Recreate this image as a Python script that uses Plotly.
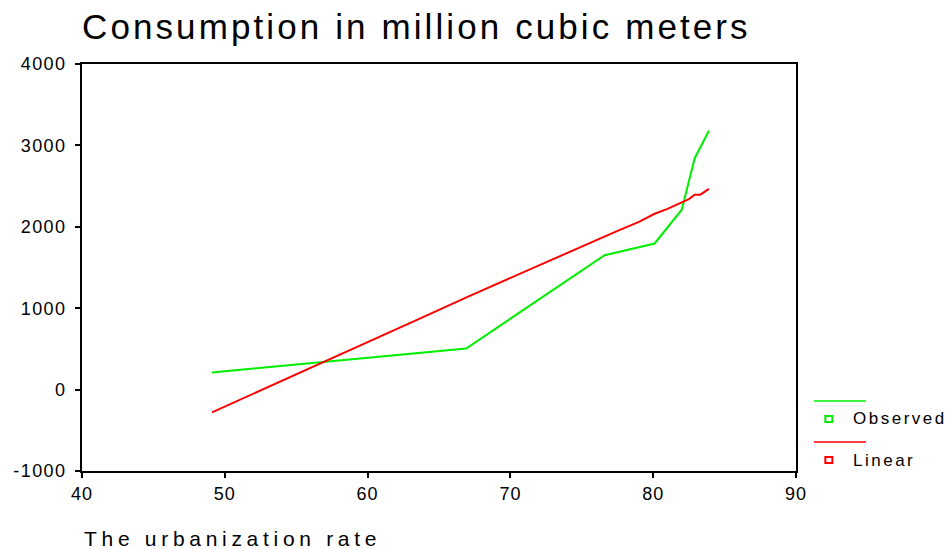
import plotly.graph_objects as go

# Observed consumption (million m3) against urbanization rate (%)
obs_rate = [49.1, 66.9, 76.6, 80.1, 82.0, 82.9, 83.9]
obs_consumption = [210, 505, 1650, 1795, 2210, 2840, 3180]

# Linear model fitted values
lin_rate = [49.1, 57.3, 64.0, 67.0, 71.5, 73.0, 76.6, 77.5, 79.0, 80.1,
            81.0, 82.0, 82.5, 82.9, 83.3, 83.9]
lin_consumption = [-280, 365, 900, 1140, 1490, 1600, 1880, 1950, 2060, 2160,
                   2220, 2300, 2340, 2395, 2395, 2465]

x_ticks = [40, 50, 60, 70, 80, 90]
y_ticks = [-1000, 0, 1000, 2000, 3000, 4000]
y_tick_labels = ["-1000", "0", "1000", "2000", "3000", "4000"]

GREEN = "#00ee00"
RED = "#ff0000"
FONT = "Liberation Sans, Arial, sans-serif"


def spaced(text, px):
    return f'<span style="letter-spacing:{px}px">{text}</span>'


fig = go.Figure()
fig.add_trace(go.Scatter(x=obs_rate, y=obs_consumption, mode="lines",
                         line=dict(color=GREEN, width=2), name="Observed",
                         showlegend=False))
fig.add_trace(go.Scatter(x=lin_rate, y=lin_consumption, mode="lines",
                         line=dict(color=RED, width=2), name="Linear",
                         showlegend=False))

axis_common = dict(showline=True, linecolor="black", linewidth=2, mirror=True,
                   ticks="outside", ticklen=5, tickcolor="black", tickwidth=1.5,
                   showgrid=False, zeroline=False,
                   tickfont=dict(family=FONT, size=18, color="black"))

fig.update_xaxes(range=[40, 90], tickvals=x_ticks,
                 ticktext=[spaced(str(v), 1) for v in x_ticks], **axis_common)
fig.update_yaxes(range=[-1000, 4000], tickvals=y_ticks, ticklabelstandoff=5,
                 ticktext=[spaced(t, 1.4) for t in y_tick_labels], **axis_common)

# Hand-built legend to the right of the plot area
shapes = []
annotations = []
for color, label, y_line, y_box in [(GREEN, "Observed", 0.172, 0.128),
                                    (RED, "Linear", 0.071, 0.027)]:
    shapes.append(dict(type="line", xref="paper", yref="paper",
                       x0=1.025, x1=1.098, y0=y_line, y1=y_line,
                       line=dict(color=color, width=1.5)))
    shapes.append(dict(type="rect", xref="paper", yref="paper",
                       xsizemode="pixel", ysizemode="pixel",
                       xanchor=1.046, yanchor=y_box,
                       x0=-3.5, x1=3.5, y0=-3, y1=3,
                       line=dict(color=color, width=2)))
    annotations.append(dict(text=spaced(label, 2.5), xref="paper", yref="paper",
                            x=1.077, y=y_box, xanchor="left", yanchor="middle",
                            showarrow=False,
                            font=dict(family=FONT, size=17, color="black")))

annotations.append(dict(text=spaced("The urbanization rate", 4.7),
                        xref="paper", yref="paper",
                        x=0, y=-0.165, xanchor="left", yanchor="middle",
                        showarrow=False,
                        font=dict(family=FONT, size=21, color="black")))

fig.update_layout(
    width=952, height=549,
    margin=dict(l=82, r=156, t=64, b=78),
    paper_bgcolor="white", plot_bgcolor="white",
    title=dict(text=spaced("Consumption in million cubic meters", 3.1),
               x=82 / 952, xanchor="left", y=1 - 27 / 549, yanchor="middle",
               font=dict(family=FONT, size=35, color="black")),
    shapes=shapes, annotations=annotations,
)

fig.write_html("out.html")
